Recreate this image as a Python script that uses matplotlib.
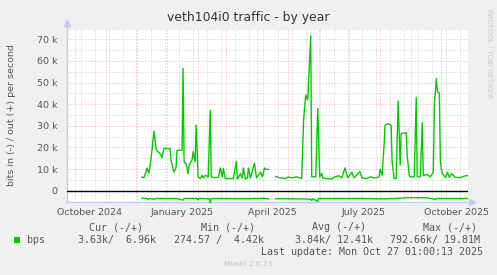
import matplotlib
matplotlib.use("Agg")
import matplotlib.pyplot as plt
import matplotlib.dates as mdates
from matplotlib.patches import Rectangle
import numpy as np
import pandas as pd

# out (+) traffic, in kbit/s
out_dates = [
    "2024-12-07", "2024-12-09", "2024-12-11", "2024-12-12", "2024-12-14", "2024-12-16",
    "2024-12-17", "2024-12-19", "2024-12-21", "2024-12-22", "2024-12-25", "2024-12-27",
    "2024-12-29", "2025-01-04", "2025-01-05", "2025-01-07", "2025-01-08", "2025-01-10",
    "2025-01-11", "2025-01-16", "2025-01-17", "2025-01-18", "2025-01-20", "2025-01-22",
    "2025-01-23", "2025-01-26", "2025-01-27", "2025-01-29", "2025-01-30", "2025-02-01",
    "2025-02-03", "2025-02-05", "2025-02-06", "2025-02-08", "2025-02-11", "2025-02-13",
    "2025-02-14", "2025-02-17", "2025-02-21", "2025-02-23", "2025-02-25", "2025-02-26",
    "2025-02-28", "2025-03-08", "2025-03-11", "2025-03-12", "2025-03-15", "2025-03-17",
    "2025-03-18", "2025-03-20", "2025-03-22", "2025-03-23", "2025-03-25", "2025-03-29",
    "2025-03-31", "2025-04-04", "2025-04-06", "2025-04-08", "2025-04-09", "2025-04-12",
    "2025-04-15", "2025-04-19", "2025-04-24", "2025-04-29", "2025-05-02", "2025-05-05",
    "2025-05-10", "2025-05-15", "2025-05-17", "2025-05-19", "2025-05-21", "2025-05-24",
    "2025-05-25", "2025-05-29", "2025-05-31", "2025-06-02", "2025-06-04", "2025-06-05",
    "2025-06-09", "2025-06-14", "2025-06-17", "2025-06-21", "2025-06-24", "2025-06-27",
    "2025-06-30", "2025-07-04", "2025-07-06", "2025-07-12", "2025-07-14", "2025-07-19",
    "2025-07-22", "2025-07-27", "2025-07-31", "2025-08-01", "2025-08-03", "2025-08-05",
    "2025-08-06", "2025-08-09", "2025-08-12", "2025-08-13", "2025-08-15", "2025-08-17",
    "2025-08-19", "2025-08-21", "2025-08-22", "2025-08-27", "2025-08-28", "2025-08-30",
    "2025-08-31", "2025-09-04", "2025-09-06", "2025-09-07", "2025-09-10", "2025-09-12",
    "2025-09-13", "2025-09-17", "2025-09-20", "2025-09-23", "2025-09-24", "2025-09-26",
    "2025-09-27", "2025-09-29", "2025-09-30", "2025-10-01", "2025-10-02", "2025-10-05",
    "2025-10-07", "2025-10-09", "2025-10-11", "2025-10-15", "2025-10-20", "2025-10-25",
    "2025-10-27",
]
out_k = [
    6.3, 6.0, 8.6, 10.5, 8.2, 14.4,
    18.4, 27.5, 19.8, 18.4, 17.2, 15.3,
    19.5, 19.5, 14.0, 10.2, 8.6, 10.7,
    18.7, 18.7, 56.5, 13.3, 12.5, 7.9,
    11.8, 14.3, 18.1, 13.3, 30.3, 6.4,
    5.6, 7.1, 5.9, 7.1, 6.4, 37.2,
    6.4, 6.1, 6.1, 10.5, 6.4, 10.2,
    5.6, 5.6, 13.6, 5.3, 7.9, 5.9,
    10.5, 5.3, 5.9, 10.5, 5.9, 12.8,
    5.9, 8.6, 6.4, 10.5, 9.9, 9.9,
    np.nan, 6.6, 5.9, 5.6, 6.4, 5.9,
    6.4, 5.6, 33.4, 44.2, 42.0, 71.6,
    6.4, 6.4, 38.0, 6.4, 7.9, 5.9,
    5.6, 5.3, 6.4, 6.9, 5.9, 10.5,
    5.9, 8.6, 5.9, 8.8, 5.9, 5.6,
    6.4, 5.9, 6.4, 9.9, 7.1, 21.0,
    30.3, 31.0, 30.3, 13.3, 5.6, 5.6,
    41.5, 11.8, 26.4, 26.8, 16.3, 7.1,
    6.4, 6.4, 43.2, 6.4, 6.4, 31.4,
    7.1, 7.4, 6.4, 8.6, 39.7, 52.0,
    45.9, 45.0, 14.0, 9.9, 8.0, 6.1,
    8.6, 6.1, 7.9, 6.1, 6.1, 6.9,
    6.96,
]

# in (-) traffic, drawn below zero
in_dates = [
    "2024-12-07", "2024-12-12", "2024-12-13", "2024-12-15", "2024-12-19", "2024-12-21",
    "2025-01-10", "2025-01-17", "2025-01-18", "2025-01-31", "2025-02-01", "2025-02-02",
    "2025-02-12", "2025-02-13", "2025-02-14", "2025-02-23", "2025-03-15", "2025-04-01",
    "2025-04-08", "2025-04-12", "2025-04-15", "2025-04-19", "2025-05-15", "2025-05-24",
    "2025-05-25", "2025-05-26", "2025-05-31", "2025-06-01", "2025-07-15", "2025-08-05",
    "2025-08-15", "2025-08-31", "2025-09-17", "2025-09-25", "2025-09-27", "2025-10-27",
]
in_k = [
    -3.5, -3.6, -4.0, -3.6, -4.0, -3.6,
    -3.6, -4.4, -3.6, -3.6, -4.3, -3.6,
    -3.7, -5.6, -3.7, -3.6, -3.7, -3.6,
    -3.5, -3.8, np.nan, -3.7, -3.8, -3.9,
    -4.5, -3.8, -4.9, -3.6, -3.6, -3.8,
    -3.6, -3.2, -3.3, -4.0, -3.6, -3.63,
]

xlabel_dates = ["2024-10-16", "2025-01-16", "2025-04-16", "2025-07-16", "2025-10-16"]
xlabel_text = ["October 2024", "January 2025", "April 2025", "July 2025", "October 2025"]
ytick_vals = [0, 10000, 20000, 30000, 40000, 50000, 60000, 70000]
ytick_text = ["0", "10 k", "20 k", "30 k", "40 k", "50 k", "60 k", "70 k"]

legend_heads = ["Cur (-/+)", "Min (-/+)", "Avg (-/+)", "Max (-/+)"]
legend_vals = ["3.63k/  6.96k", "274.57 /  4.42k", "3.84k/ 12.41k", "792.66k/ 19.81M"]

W, H = 497, 275
green = "#00cc00"
axis_col = "#c4c8f4"
red_grid = "#eeb0b0"
grey_grid = "#cccccc"


def fx(px):
    return px / W


def fy(py):
    return 1 - py / H


fig = plt.figure(figsize=(W / 100, H / 100), dpi=100, facecolor="#f0f0f0")
ax = fig.add_axes([fx(67), fy(201.5), fx(468 - 67), (201.5 - 28.5) / H])
ax.set_facecolor("white")

od = pd.to_datetime(out_dates)
idt = pd.to_datetime(in_dates)
ax.plot(od, np.array(out_k) * 1000, color=green, lw=1.0, zorder=4)
ax.plot(idt, np.array(in_k) * 1000, color=green, lw=1.0, zorder=4, clip_on=False)
ax.axhline(0, color="black", lw=1.0, zorder=3)

ax.set_xlim(pd.Timestamp("2024-09-23 12:00"), pd.Timestamp("2025-10-27 12:00"))
ax.set_ylim(-5000, 75000)

# grid: red dotted on 10k / month starts, grey dotted on 5k / every other monday
dots = (0, (1, 2))
for v in np.arange(-5000, 75001, 5000):
    if v % 10000 == 0:
        ax.axhline(v, color=red_grid, lw=0.72, ls=dots, zorder=1)
    else:
        ax.axhline(v, color=grey_grid, lw=0.72, ls=dots, zorder=1)
for d in pd.date_range("2024-10-07", "2025-10-27", freq="14D"):
    ax.axvline(d, color=grey_grid, lw=0.72, ls=dots, zorder=1)
for d in pd.date_range("2024-10-01", "2025-10-27", freq="MS"):
    ax.axvline(d, color=red_grid, lw=0.72, ls=dots, zorder=2)

ax.set_yticks(ytick_vals)
ax.set_yticklabels(ytick_text)
ax.set_xticks(pd.to_datetime(xlabel_dates))
ax.set_xticklabels(xlabel_text)
ax.tick_params(axis="both", length=0, labelsize=6.8, colors="#555555")
ax.tick_params(axis="y", pad=7)
ax.tick_params(axis="x", pad=5)
for s in ax.spines.values():
    s.set_visible(False)

# axis lines with arrows, rrdtool style
ax.plot([0, 0], [0, 1.02], transform=ax.transAxes, color=axis_col, lw=1, clip_on=False)
ax.plot([0], [1.03], transform=ax.transAxes, marker="^", ms=4, color=axis_col, clip_on=False)
ax.plot([0, 1.005], [0, 0], transform=ax.transAxes, color=axis_col, lw=1, clip_on=False)
ax.plot([1.01], [0], transform=ax.transAxes, marker=">", ms=4, color=axis_col, clip_on=False)

fig.text(fx(248), fy(17), "veth104i0 traffic - by year", ha="center", va="center",
         fontsize=8.9, color="#333333")
fig.text(fx(12), fy(115), "bits in (-) / out (+) per second", rotation=90,
         ha="center", va="center", fontsize=6.8, color="#555555")
fig.text(fx(489), fy(53), "RRDTOOL / TOBI OETIKER", rotation=270, ha="center",
         va="center", fontsize=5, color="#c8c8c8")

mono = "DejaVu Sans Mono"
head_x = [89.3, 201, 312.3, 422.7]
val_x = [78.3, 174, 295, 390]
for hx, t in zip(head_x, legend_heads):
    fig.text(fx(hx), fy(227.3), t, family=mono, fontsize=7.2, color="#555555", va="center")
for vx, t in zip(val_x, legend_vals):
    fig.text(fx(vx), fy(240), t, family=mono, fontsize=7.2, color="#555555", va="center")
fig.patches.append(Rectangle((fx(14), fy(243)), fx(6), 6 / H, transform=fig.transFigure,
                             facecolor=green, edgecolor="none"))
fig.text(fx(26.7), fy(240), "bps", family=mono, fontsize=7.2, color="#555555", va="center")
fig.text(fx(483), fy(251.7), "Last update: Mon Oct 27 01:00:13 2025", family=mono,
         fontsize=7.2, color="#555555", va="center", ha="right")
fig.text(fx(248), fy(264), "Munin 2.0.73", ha="center", va="center", fontsize=5.3,
         color="#c0c0c0")

fig.savefig("out.png", dpi=100, facecolor=fig.get_facecolor())
